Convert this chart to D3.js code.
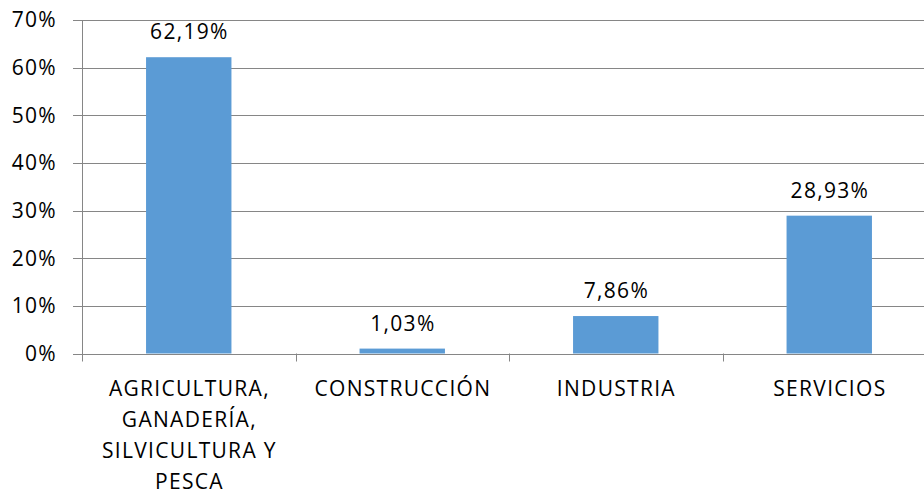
<!DOCTYPE html>
<html>
<head>
<meta charset="utf-8">
<script src="https://cdn.jsdelivr.net/npm/d3@7"></script>
<style>
  body { margin: 0; background: #fff; }
  svg { display: block; font-family: "Open Sans", "Liberation Sans", sans-serif; }
  svg text { font-size: 21px; letter-spacing: 1.3px; fill: #000; }
</style>
</head>
<body>
<div id="chart"></div>
<script>
const categories = [
    ["AGRICULTURA,", "GANADERÍA,", "SILVICULTURA Y", "PESCA"],
    ["CONSTRUCCIÓN"],
    ["INDUSTRIA"],
    ["SERVICIOS"]
];
const values = [62.19, 1.03, 7.86, 28.93];
const valueLabels = ["62,19%", "1,03%", "7,86%", "28,93%"];
const yTicks = [0, 10, 20, 30, 40, 50, 60, 70];

const width = 924, height = 497;
const margin = { top: 20, left: 82, bottom: 143.5 };
const plotRight = 936; // plot runs past the window edge, as in the reference

const svg = d3.select("#chart").append("svg")
    .attr("width", width)
    .attr("height", height);

const x = d3.scaleBand()
    .domain(d3.range(categories.length))
    .range([margin.left, plotRight])
    .paddingInner(0.6)
    .paddingOuter(0.3);

const y = d3.scaleLinear()
    .domain([0, 70])
    .range([height - margin.bottom, margin.top]);

// gridlines
svg.append("g")
    .selectAll("line")
    .data(yTicks)
    .enter()
    .append("line")
    .attr("x1", margin.left - 9)
    .attr("x2", plotRight)
    .attr("y1", d => Math.round(y(d)) + 0.5)
    .attr("y2", d => Math.round(y(d)) + 0.5)
    .attr("stroke", "#868686")
    .attr("stroke-width", 1);

// y axis line
svg.append("line")
    .attr("x1", margin.left + 0.5)
    .attr("x2", margin.left + 0.5)
    .attr("y1", y(70))
    .attr("y2", y(0) + 8)
    .attr("stroke", "#868686");

// y tick labels
svg.append("g")
    .selectAll("text")
    .data(yTicks)
    .enter()
    .append("text")
    .attr("x", 57)
    .attr("y", d => y(d))
    .attr("dy", "0.35em")
    .attr("text-anchor", "end")
    .text(d => d + "%");

// category boundary ticks
const step = x.step();
svg.append("g")
    .selectAll("line")
    .data(d3.range(1, categories.length + 1))
    .enter()
    .append("line")
    .attr("x1", i => Math.round(margin.left + step * i) + 0.5)
    .attr("x2", i => Math.round(margin.left + step * i) + 0.5)
    .attr("y1", y(0))
    .attr("y2", y(0) + 8)
    .attr("stroke", "#868686");

// bars
svg.append("g")
    .selectAll("rect")
    .data(values)
    .enter()
    .append("rect")
    .attr("x", (d, i) => x(i))
    .attr("y", d => y(d))
    .attr("width", x.bandwidth())
    .attr("height", d => y(0) - y(d))
    .attr("fill", "#5B9BD5");

// value labels
svg.append("g")
    .selectAll("text")
    .data(values)
    .enter()
    .append("text")
    .attr("x", (d, i) => x(i) + x.bandwidth() / 2 + 0.65)
    .attr("y", d => y(d) - 18)
    .attr("text-anchor", "middle")
    .text((d, i) => valueLabels[i]);

// category labels
const catGroups = svg.append("g")
    .selectAll("text")
    .data(categories)
    .enter()
    .append("text")
    .attr("x", (d, i) => x(i) + x.bandwidth() / 2 + 0.65)
    .attr("y", 396)
    .attr("text-anchor", "middle");

catGroups.selectAll("tspan")
    .data(d => d)
    .enter()
    .append("tspan")
    .attr("x", function () { return d3.select(this.parentNode).attr("x"); })
    .attr("dy", (d, i) => i === 0 ? 0 : 31)
    .text(d => d);
</script>
</body>
</html>
